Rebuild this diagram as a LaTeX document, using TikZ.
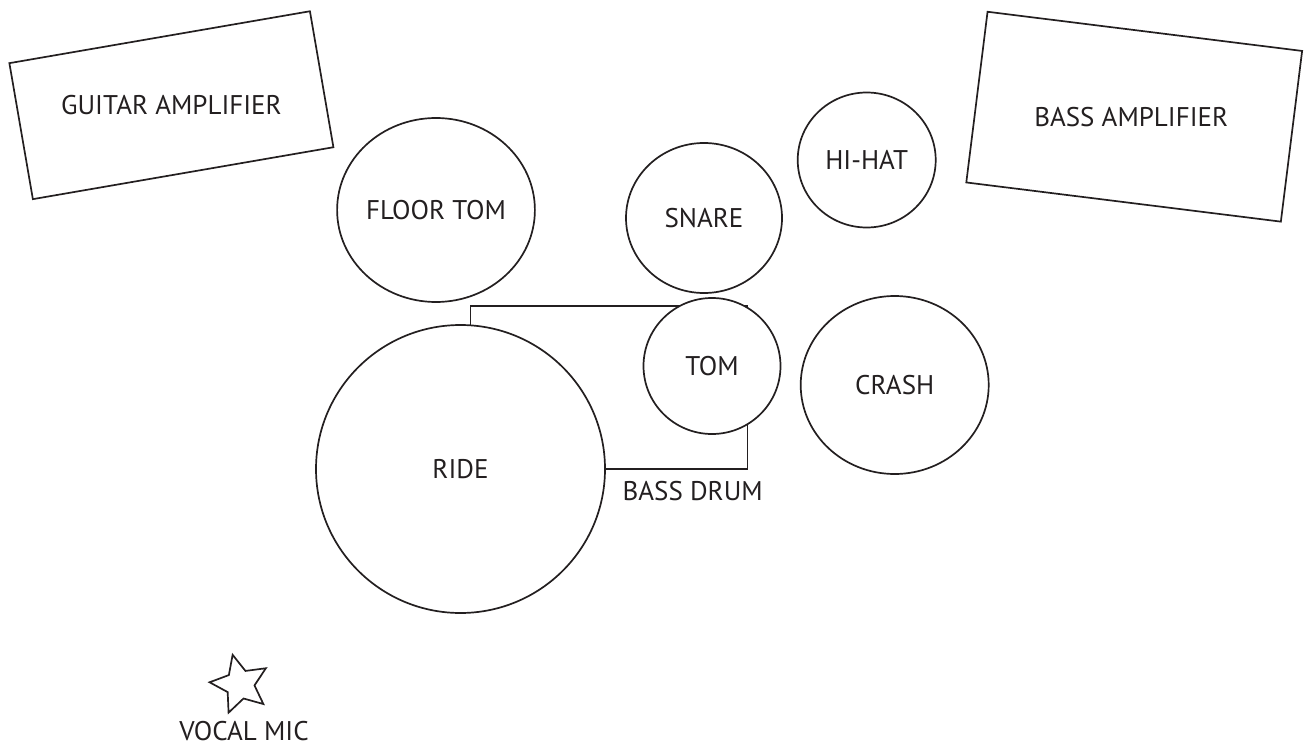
\documentclass[tikz,border=0pt]{standalone}
\usepackage{fontspec}
\setmainfont{PT Sans}
\usetikzlibrary{shapes.geometric}
\definecolor{ink}{HTML}{231F20}

\begin{document}
\begin{tikzpicture}[x=1pt,y=1pt]
      \tikzset{every node/.style={text=ink, font=\fontsize{27}{31}\selectfont},
        drum/.style={draw=ink, line width=1.7pt, ellipse, inner sep=0pt, fill=white},
        amp/.style={draw=ink, line width=1.7pt, rectangle, inner sep=0pt}}
      \path[use as bounding box] (0,0) rectangle (1305,-746);

      % amplifiers (box turned, text kept level)
      \node[amp, minimum width=305, minimum height=138, rotate=9.8] (guitaramp) at (171.4,-105.2) {};
      \node at (guitaramp.center) {GUITAR AMPLIFIER};
      \node[amp, minimum width=317, minimum height=172, rotate=-7.1] (bassamp) at (1134.2,-116.7) {};
      \node at ([xshift=-3pt]bassamp.center) {BASS AMPLIFIER};

      % bass drum sits under ride and tom
      \node[amp, minimum width=277, minimum height=163] (bassdrum) at (609,-387.5) {};
      \node (bassdrumlabel) at (692.7,-491) {BASS DRUM};

      \node[drum, minimum width=192, minimum height=184] (floortom) at (436,-210) {FLOOR TOM};
      \node[drum, minimum width=156, minimum height=150] (snare) at (704,-218) {SNARE};
      \node[drum, minimum width=138, minimum height=135] (hihat) at (866.7,-160) {HI-HAT};
      \node[drum, minimum width=137, minimum height=136] (tom) at (712,-366) {TOM};
      \node[drum, minimum width=188, minimum height=178] (crash) at (894.7,-385) {CRASH};
      \node[drum, minimum width=289, minimum height=288] (ride) at (460.5,-469) {RIDE};

      % vocal mic
      \node[star, star points=5, star point ratio=2.1, draw=ink, line width=1.7pt,
        minimum size=61, inner sep=0pt, rotate=14] (mic) at (240,-684.4) {};
      \node (miclabel) at (244,-731) {VOCAL MIC};
    \end{tikzpicture}
\end{document}
